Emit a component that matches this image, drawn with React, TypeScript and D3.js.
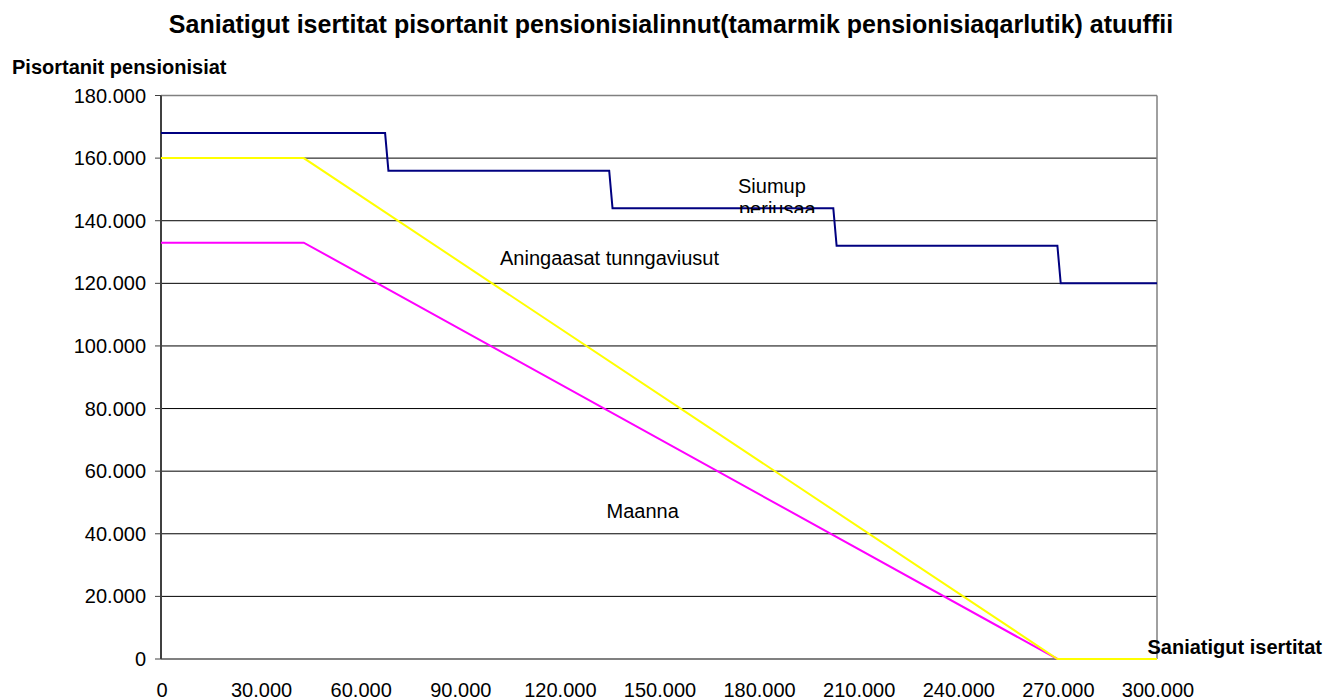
import React from "react";
import * as d3 from "d3";

const W = 1325;
const H = 699;

const title = "Saniatigut isertitat pisortanit pensionisialinnut(tamarmik pensionisiaqarlutik) atuuffii";
const yTitle = "Pisortanit pensionisiat";
const xTitle = "Saniatigut isertitat";

const xTicks = [0, 30000, 60000, 90000, 120000, 150000, 180000, 210000, 240000, 270000, 300000];
const yTicks = [0, 20000, 40000, 60000, 80000, 100000, 120000, 140000, 160000, 180000];

// series: [income, pension]
const siumupPeriusaa: [number, number][] = [
  [0, 168000], [67500, 168000], [68500, 156000], [135000, 156000], [136000, 144000],
  [202500, 144000], [203500, 132000], [270000, 132000], [271000, 120000], [300000, 120000],
];
const aningaasatTunngaviusut: [number, number][] = [
  [0, 160000], [43000, 160000], [270000, 0], [300000, 0],
];
const maanna: [number, number][] = [
  [0, 133000], [43000, 133000], [270000, 0], [300000, 0],
];

const fmt = (v: number) => (v === 0 ? "0" : d3.format(",")(v).replace(/,/g, "."));

const FONT = "'Liberation Sans', Arial, sans-serif";

export default function App() {
  const left = 161, right = 1157, top = 95.5, bottom = 659;
  const x = d3.scaleLinear().domain([0, 300000]).range([left, right]);
  const y = d3.scaleLinear().domain([0, 180000]).range([bottom, top]);
  const line = d3.line<[number, number]>().x((d) => x(d[0])).y((d) => y(d[1]));

  return (
    <svg width={W} height={H} style={{ position: "absolute", left: 0, top: 0, background: "#fff" }} fontFamily={FONT}>
      <defs>
        <clipPath id="clipPer">
          <rect x={700} y={150} width={200} height={63} />
        </clipPath>
      </defs>
      <rect x={0} y={0} width={W} height={H} fill="#fff" />
      <text x={671} y={33} textAnchor="middle" fontWeight="bold" fontSize={25} fill="#000">{title}</text>
      <text x={12} y={74} fontWeight="bold" fontSize={20} fill="#000">{yTitle}</text>

      {/* gridlines */}
      {yTicks.filter((t) => t > 0 && t < 180000).map((t) => (
        <line key={t} x1={left} x2={right} y1={y(t)} y2={y(t)} stroke="#000" strokeWidth={1} />
      ))}
      {/* border */}
      <line x1={left} x2={right} y1={top} y2={top} stroke="#808080" strokeWidth={1.5} />
      <line x1={right} x2={right} y1={top} y2={bottom} stroke="#808080" strokeWidth={1.5} />

      {/* y ticks */}
      {yTicks.map((t) => (
        <g key={t}>
          <line x1={155} x2={left} y1={y(t)} y2={y(t)} stroke="#404040" strokeWidth={1} />
          <text x={146} y={y(t) + 7} textAnchor="end" fontSize={20} fill="#000">{fmt(t)}</text>
        </g>
      ))}
      {xTicks.map((t) => (
        <text key={t} x={x(t) + 1} y={697} textAnchor="middle" fontSize={20} fill="#000">{fmt(t)}</text>
      ))}

      {/* axes */}
      <line x1={left} x2={right} y1={bottom} y2={bottom} stroke="#808080" strokeWidth={2} />
      <line x1={left} x2={left} y1={top} y2={bottom} stroke="#404040" strokeWidth={2} />

      {/* series */}
      <path d={line(maanna) || ""} fill="none" stroke="#FF00FF" strokeWidth={2} />
      <path d={line(aningaasatTunngaviusut) || ""} fill="none" stroke="#FFFF00" strokeWidth={2} />
      <path d={line(siumupPeriusaa) || ""} fill="none" stroke="#000080" strokeWidth={2} />

      {/* labels */}
      <text x={738} y={193} fontSize={20} fill="#000">Siumup</text>
      <text x={739} y={216} fontSize={20} fill="#000" clipPath="url(#clipPer)">periusaa</text>
      <text x={500} y={265} fontSize={20} fill="#000">Aningaasat tunngaviusut</text>
      <text x={606.5} y={518} fontSize={20} fill="#000">Maanna</text>
      <text x={1147.5} y={654} fontWeight="bold" fontSize={20} fill="#000">{xTitle}</text>
    </svg>
  );
}
